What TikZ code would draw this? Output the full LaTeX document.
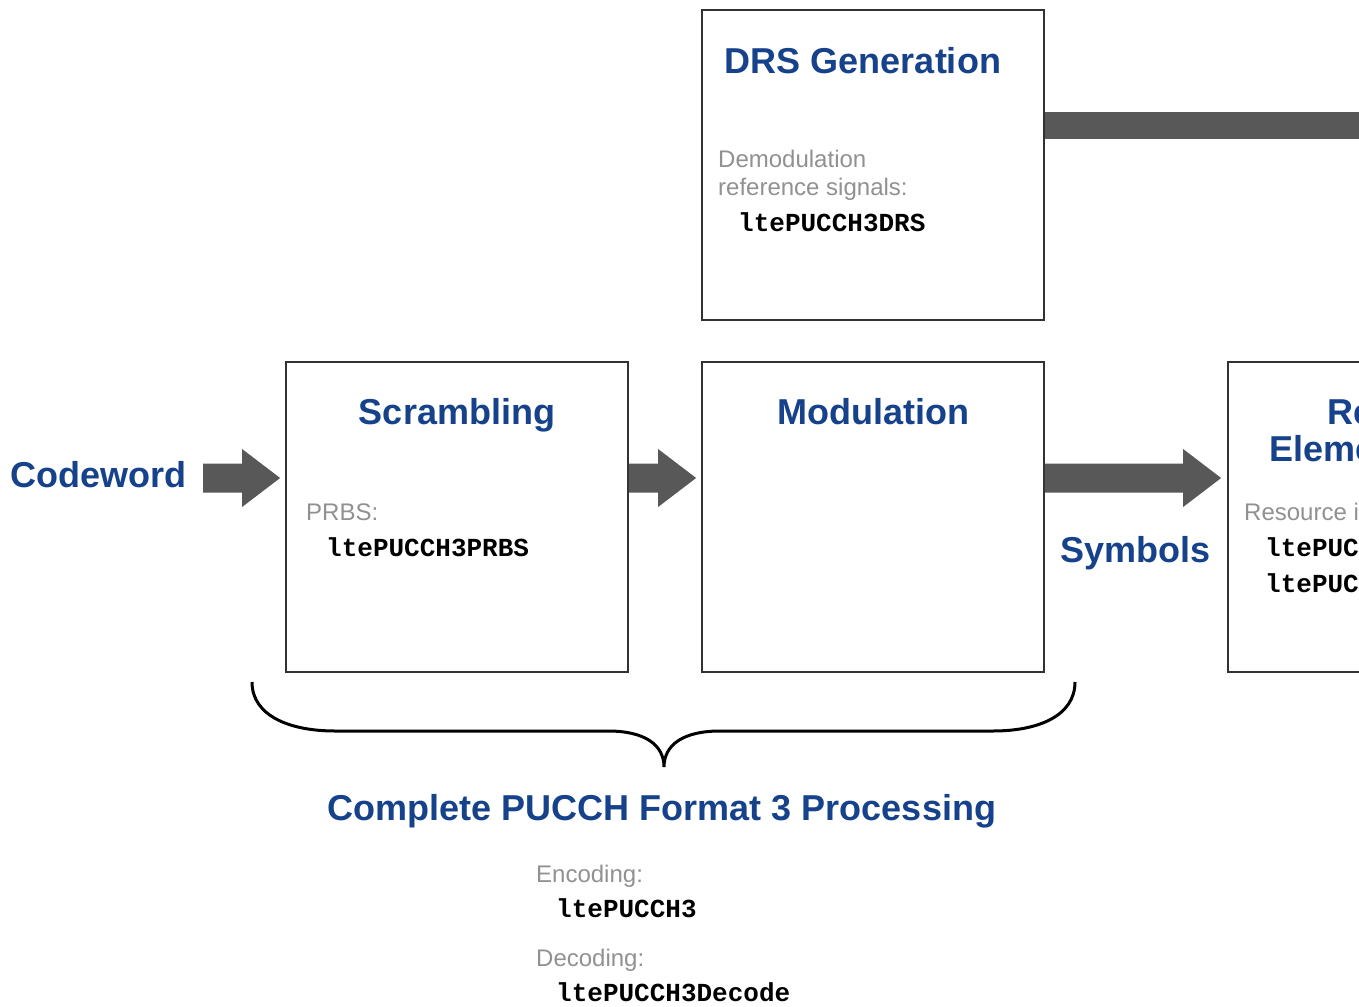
\documentclass[tikz,border=0pt]{standalone}
\usepackage{fontspec}
\setmainfont{Liberation Sans}
\setmonofont{Liberation Mono}
\usetikzlibrary{calc}
\definecolor{titleblue}{RGB}{22,66,140}
\definecolor{labelgray}{RGB}{145,145,145}
\definecolor{arrowfill}{RGB}{88,88,88}
\definecolor{boxline}{RGB}{50,50,50}
\tikzset{
  blockbox/.style={draw=boxline, line width=1.8pt, minimum width=342pt, minimum height=310pt, inner sep=0pt, fill=white},
  titletext/.style={text=titleblue, font=\fontsize{36}{37}\selectfont\bfseries, inner sep=0pt, anchor=base},
  graytext/.style={text=labelgray, font=\fontsize{24}{28}\selectfont, inner sep=0pt, anchor=base west},
  codetext/.style={text=black, font=\fontsize{26}{28}\selectfont\ttfamily\bfseries, inner sep=0pt, anchor=base west},
  bracepath/.style={draw=black, line width=3pt},
  fatbar/.style={draw=arrowfill, line width=27pt},
}
\newcommand\fatarrow[2]{%
  \fill[arrowfill] ($(#1)+(0,-14.5)$) -- ($(#2)+(-38,-14.5)$) -- ($(#2)+(-38,-29)$) -- (#2)
    -- ($(#2)+(-38,29)$) -- ($(#2)+(-38,14.5)$) -- ($(#1)+(0,14.5)$) -- cycle;}
\begin{document}
\begin{tikzpicture}[x=1pt,y=-1pt]
\useasboundingbox (0,0) rectangle (1359,1006);
\clip (0,0) rectangle (1359,1006);
\fill[white] (0,0) rectangle (1359,1006);

% boxes
\node[blockbox] (drs) at (873,165) {};
\node[blockbox] (scr) at (457,517) {};
\node[blockbox] (mod) at (873,517) {};
\node[blockbox] (res) at (1399,517) {};

% titles
\node[titletext] (drsT) at (863,74) {DRS Generation};
\node[titletext] (scrT) at (457,424) {Scrambling};
\node[titletext] (modT) at (873,424) {Modulation};
\node[titletext] (resT1) at (1410,424) {Resource};
\node[titletext] (resT2) at (1418,461) {Element Mapping};

% box contents
\node[graytext] (drsL1) at (718,167) {Demodulation};
\node[graytext] (drsL2) at (718,195) {reference signals:};
\node[codetext] (drsC) at (738,231) {ltePUCCH3DRS};
\node[graytext] (scrL) at (306,520) {PRBS:};
\node[codetext] (scrC) at (326,556) {ltePUCCH3PRBS};
\node[graytext] (resL) at (1244,520) {Resource indices:};
\node[codetext] (resC1) at (1265,556) {ltePUCCH3Indices};
\node[codetext] (resC2) at (1265,592) {ltePUCCH3DRSIndices};

% outer labels
\node[titletext, anchor=base west] (cw) at (10,487) {Codeword};
\node[titletext, anchor=base west] (sym) at (1060,562) {Symbols};
\node[titletext] (full) at (662,820) {Complete PUCCH Format 3 Processing};
\node[graytext] (encL) at (536,882) {Encoding:};
\node[codetext] (encC) at (556,917) {ltePUCCH3};
\node[graytext] (decL) at (536,966) {Decoding:};
\node[codetext] (decC) at (556,1001) {ltePUCCH3Decode};

% arrows
\coordinate (ay) at (0,478);
\coordinate (cwtail) at (203,478);
\coordinate (t1) at ($(scr.west |- ay)+(-5,0)$);
\coordinate (s2) at (scr.east |- ay);
\coordinate (t2) at ($(mod.west |- ay)+(-5,0)$);
\coordinate (s3) at (mod.east |- ay);
\coordinate (t3) at ($(res.west |- ay)+(-6,0)$);
\fatarrow{cwtail}{t1}
\fatarrow{s2}{t2}
\fatarrow{s3}{t3}

% DRS bar leaving to the right
\coordinate (drsout) at (1420,125.5);
\draw[fatbar] (drs.east |- drsout) -- (drsout);

% brace
\draw[bracepath] (252,682) .. controls (252,716) and (290,731) .. (335,731)
  -- (608,731) .. controls (645,731) and (664,745) .. (664,767)
  .. controls (664,745) and (683,731) .. (720,731)
  -- (993,731) .. controls (1038,731) and (1075,716) .. (1075,682);
\end{tikzpicture}
\end{document}
